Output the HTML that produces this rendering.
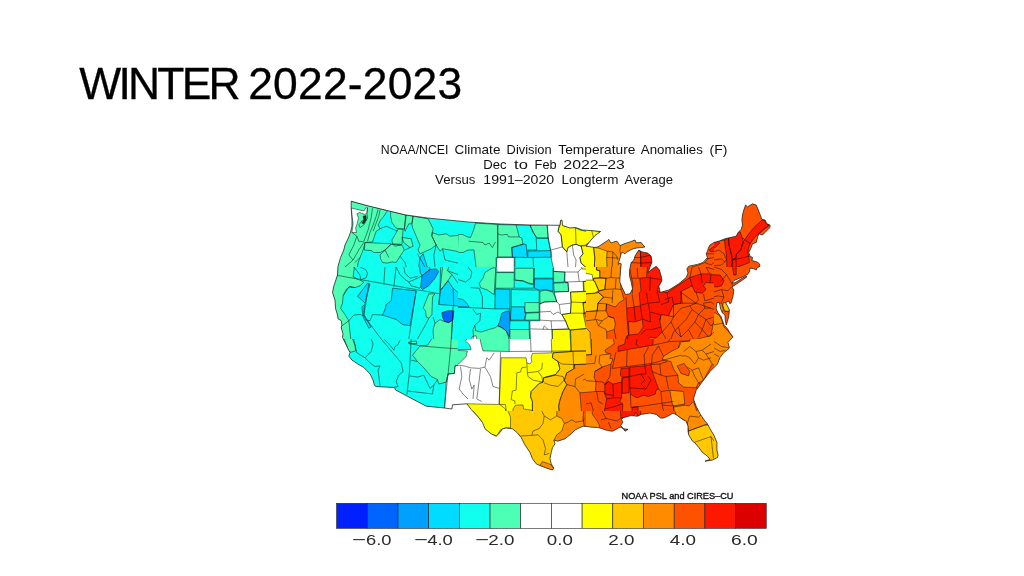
<!DOCTYPE html>
<html lang="en"><head><meta charset="utf-8"><title>Winter 2022-2023</title>
<style>
html,body{margin:0;padding:0;background:#fff;}
body{width:1024px;height:576px;overflow:hidden;position:relative;font-family:"Liberation Sans",Arial,sans-serif;}
h1{position:absolute;left:79.3px;top:62.2px;margin:0;font-weight:400;font-size:44.4px;line-height:1;color:#000;white-space:nowrap;-webkit-text-stroke:0.3px #000;}
svg{position:absolute;left:0;top:0;}
.ta{letter-spacing:-2.75px;} .tb{letter-spacing:0.2px;margin-left:-2.0px;}
.sub{font-family:"Liberation Sans",Arial,sans-serif;font-size:12.2px;fill:#111;}
.cbl{font-family:"Liberation Sans",Arial,sans-serif;font-size:15.5px;fill:#2a2a2a;}
.cr{font-family:"Liberation Sans",Arial,sans-serif;font-size:9.2px;font-weight:400;fill:#111;stroke:#111;stroke-width:0.35px;}
</style></head><body>
<h1><span class="ta">WINTER</span> <span class="tb">2022-2023</span></h1>
<svg width="1024" height="576" viewBox="0 0 1024 576">
<defs><clipPath id="us"><path d="M351.2,201.2 L367.0,205.6 L387.5,210.6 L406.0,215.0 L427.5,218.0 L468.0,222.0 L500.0,224.0 L530.0,225.0 L560.0,225.3 L560.5,220.5 L562.0,220.0 L562.5,225.5 L570.0,228.0 L575.6,227.5 L582.5,230.0 L591.2,230.6 L600.6,231.5 L595.0,235.6 L590.0,241.2 L586.2,246.2 L595.0,247.5 L598.0,246.9 L607.5,240.6 L608.8,239.4 L609.8,241.2 L611.2,243.0 L613.8,241.9 L616.9,241.2 L618.8,243.8 L620.0,245.6 L625.0,243.5 L630.0,241.9 L635.0,240.0 L636.2,242.8 L641.2,242.5 L643.0,245.0 L645.0,246.9 L641.9,247.5 L638.0,247.8 L633.8,248.5 L630.0,250.2 L626.2,252.5 L625.0,253.8 L623.0,252.5 L621.2,253.0 L620.6,256.2 L619.4,260.0 L618.0,264.4 L620.0,263.0 L621.2,263.8 L620.6,270.0 L620.0,277.5 L619.8,282.0 L622.0,287.5 L625.5,294.5 L630.0,293.8 L632.5,288.8 L631.2,282.0 L630.0,278.0 L629.4,273.8 L629.8,268.8 L631.2,262.5 L633.8,260.0 L634.4,258.0 L635.0,256.2 L638.0,251.2 L638.8,250.0 L641.9,251.9 L647.5,253.0 L651.2,256.2 L651.9,262.5 L650.0,266.9 L648.0,272.5 L652.5,268.8 L656.2,266.2 L659.4,270.0 L661.2,276.2 L661.9,280.0 L661.2,282.0 L658.8,286.2 L660.0,291.2 L660.0,292.5 L668.8,290.0 L678.8,283.8 L686.2,277.5 L688.0,273.0 L686.9,268.8 L688.8,266.2 L697.5,264.4 L703.0,262.5 L707.5,257.5 L706.2,253.8 L708.0,250.0 L708.0,248.8 L710.0,245.0 L713.8,242.5 L718.8,241.2 L725.0,238.8 L736.2,236.2 L738.1,232.5 L741.2,229.4 L742.5,225.0 L741.9,220.0 L742.5,215.0 L743.8,210.0 L745.6,205.0 L747.5,206.9 L752.5,203.8 L756.2,205.0 L758.8,211.2 L761.9,219.4 L765.0,220.0 L766.9,223.8 L770.0,225.0 L770.0,227.5 L766.2,231.2 L762.5,235.0 L758.8,233.8 L757.5,237.5 L756.2,242.5 L752.5,243.8 L751.2,247.5 L748.8,252.5 L750.0,256.2 L752.5,257.5 L751.9,260.6 L756.9,261.9 L759.4,263.8 L760.0,266.2 L756.9,268.0 L756.2,270.0 L753.8,268.8 L750.0,268.0 L749.4,271.9 L747.5,274.4 L740.0,278.0 L733.8,280.6 L731.9,283.0 L735.0,282.8 L742.5,278.0 L746.2,276.0 L746.9,276.9 L742.5,280.0 L735.0,285.0 L731.9,286.9 L733.8,290.0 L733.0,296.2 L731.2,302.5 L730.0,303.8 L728.8,301.2 L725.6,302.5 L727.5,306.2 L729.4,310.0 L728.8,316.2 L727.5,321.2 L726.2,325.0 L725.2,319.4 L725.0,315.0 L722.5,313.1 L720.6,308.8 L719.4,302.5 L716.9,302.5 L716.2,308.8 L718.1,313.1 L721.0,316.5 L722.5,320.6 L724.0,325.2 L727.5,328.8 L730.0,333.0 L733.0,336.9 L730.0,340.0 L728.0,342.5 L729.4,347.5 L727.5,350.0 L723.8,352.5 L720.0,357.5 L717.5,364.0 L710.0,371.5 L702.5,381.5 L696.2,390.2 L693.8,397.8 L693.8,400.0 L696.2,406.2 L700.0,413.8 L705.0,421.2 L706.9,423.0 L710.0,428.8 L713.8,435.0 L716.9,442.5 L716.9,450.0 L718.0,455.0 L717.5,457.5 L712.5,460.0 L705.0,461.2 L710.0,459.4 L707.5,456.2 L702.5,452.5 L698.8,447.5 L695.0,443.0 L692.5,441.2 L688.8,435.0 L688.0,431.2 L688.0,426.2 L686.2,421.2 L682.5,419.4 L677.5,415.6 L673.0,413.0 L670.0,415.0 L663.8,418.0 L660.6,418.0 L656.2,414.4 L650.0,413.0 L641.2,414.4 L637.5,416.2 L631.2,415.6 L623.8,417.5 L621.2,419.4 L623.0,422.0 L620.6,425.6 L622.5,427.5 L625.0,431.2 L628.0,429.4 L623.8,428.8 L620.0,427.0 L616.2,429.4 L612.5,431.2 L607.5,430.6 L600.0,428.0 L597.5,427.5 L590.0,427.0 L583.8,426.2 L580.0,427.5 L575.0,430.0 L571.2,433.8 L565.0,438.8 L557.5,441.2 L553.8,440.0 L555.0,443.8 L552.5,447.5 L551.2,452.5 L550.0,458.8 L551.2,463.8 L553.8,468.0 L552.5,470.0 L546.2,468.0 L540.0,465.6 L536.2,463.8 L532.5,458.8 L530.0,452.5 L525.0,445.0 L521.2,437.5 L517.5,433.0 L512.5,428.8 L506.2,428.0 L502.5,428.8 L500.0,432.5 L496.2,436.2 L491.2,433.8 L485.0,428.8 L482.5,422.5 L477.5,416.2 L471.2,409.4 L466.9,403.8 L452.5,404.8 L451.9,409.0 L444.4,408.0 L426.2,406.2 L406.2,395.6 L395.6,390.0 L394.4,387.5 L375.6,386.5 L374.4,385.0 L373.0,380.0 L370.0,373.8 L366.2,370.0 L363.8,367.5 L357.5,363.8 L351.9,360.0 L348.8,356.2 L350.0,352.5 L348.0,348.8 L345.0,342.5 L342.5,337.5 L343.0,333.8 L341.2,327.5 L341.9,325.0 L341.2,320.6 L338.0,318.8 L337.5,315.0 L335.6,308.8 L335.0,300.0 L332.5,292.5 L333.8,286.2 L337.5,275.0 L338.0,266.2 L340.6,257.5 L343.8,250.0 L345.0,245.0 L348.8,237.0 L350.6,232.0 L352.0,226.0 L352.0,220.0 L351.2,208.0Z"/></clipPath><clipPath id="t330_195"><rect x="330" y="195" width="128" height="72"/></clipPath><clipPath id="t458_195"><rect x="458" y="195" width="128" height="72"/></clipPath><clipPath id="t586_195"><rect x="586" y="195" width="128" height="72"/></clipPath><clipPath id="t330_267"><rect x="330" y="267" width="128" height="72"/></clipPath><clipPath id="t458_267"><rect x="458" y="267" width="128" height="72"/></clipPath><clipPath id="t714_195"><rect x="714" y="195" width="128" height="72"/></clipPath><clipPath id="t714_267"><rect x="714" y="267" width="128" height="72"/></clipPath><clipPath id="t330_339"><rect x="330" y="339" width="128" height="72"/></clipPath><clipPath id="t458_339"><rect x="458" y="339" width="128" height="72"/></clipPath><clipPath id="t586_267"><rect x="586" y="267" width="128" height="72"/></clipPath><clipPath id="t586_339"><rect x="586" y="339" width="128" height="72"/></clipPath><clipPath id="t714_339"><rect x="714" y="339" width="128" height="72"/></clipPath><clipPath id="t330_411"><rect x="330" y="411" width="128" height="72"/></clipPath><clipPath id="t458_411"><rect x="458" y="411" width="128" height="72"/></clipPath><clipPath id="t586_411"><rect x="586" y="411" width="128" height="72"/></clipPath><clipPath id="t714_411"><rect x="714" y="411" width="128" height="72"/></clipPath></defs>
<text y="154.1" class="sub"><tspan x="380.85" textLength="67.55" lengthAdjust="spacingAndGlyphs">NOAA/NCEI</tspan> <tspan x="454.60" textLength="45.80" lengthAdjust="spacingAndGlyphs">Climate</tspan> <tspan x="506.60" textLength="45.05" lengthAdjust="spacingAndGlyphs">Division</tspan> <tspan x="558.35" textLength="77.05" lengthAdjust="spacingAndGlyphs">Temperature</tspan> <tspan x="640.85" textLength="62.05" lengthAdjust="spacingAndGlyphs">Anomalies</tspan> <tspan x="709.60" textLength="17.80" lengthAdjust="spacingAndGlyphs">(F)</tspan></text><text y="169" class="sub"><tspan x="483.35" textLength="23.30" lengthAdjust="spacingAndGlyphs">Dec</tspan> <tspan x="514.10" textLength="13.80" lengthAdjust="spacingAndGlyphs">to</tspan> <tspan x="534.60" textLength="22.05" lengthAdjust="spacingAndGlyphs">Feb</tspan> <tspan x="563.35" textLength="61.55" lengthAdjust="spacingAndGlyphs">2022–23</tspan></text><text y="183.6" class="sub"><tspan x="435.10" textLength="40.30" lengthAdjust="spacingAndGlyphs">Versus</tspan> <tspan x="483.35" textLength="70.80" lengthAdjust="spacingAndGlyphs">1991–2020</tspan> <tspan x="561.60" textLength="56.80" lengthAdjust="spacingAndGlyphs">Longterm</tspan> <tspan x="624.60" textLength="48.30" lengthAdjust="spacingAndGlyphs">Average</tspan></text>
<g clip-path="url(#us)" style="filter:blur(0.3px)">
<rect x="320" y="190" width="470" height="290" fill="#10ffee"/>
<g clip-path="url(#t330_195)"><rect x="330" y="195" width="128" height="72" fill="#10ffee"/><path d="M351.2,201.2 L387.5,210.6 L383.8,216.2 L380.6,220.0 L378.1,225.0 L380.0,228.8 L376.2,231.2 L374.4,236.2 L372.5,241.9 L365.0,242.5 L363.1,250.0 L360.0,257.5 L358.1,262.5 L356.9,272.0 L325.0,272.0 L325.0,200.0 L351.2,200.0Z" fill="#4cffb4"/><path d="M351.5,208.1 L363.8,211.0 L366.2,207.5 L367.5,208.1 L367.2,212.5 L365.0,214.4 L359.4,212.5 L356.9,213.8 L358.5,218.1 L356.9,224.4 L355.6,228.1 L356.5,232.5 L351.9,232.5 L353.1,223.8 L351.9,215.0Z" fill="#ffffff"/><path d="M390.6,211.2 L405.6,215.0 L404.4,228.8 L398.1,228.8 L395.6,227.5 L391.9,222.5 L390.6,216.2Z" fill="#4cffb4"/><path d="M406.2,215.0 L413.1,216.2 L411.9,223.8 L408.8,223.8 L405.0,231.2 L404.4,228.8 L405.6,220.0Z" fill="#4cffb4"/><path d="M413.1,216.2 L428.1,218.8 L433.1,228.8 L431.9,236.2 L436.2,245.0 L431.2,248.8 L420.0,253.8 L418.1,250.0 L420.0,245.0 L416.2,236.2 L412.5,227.5 L411.9,223.8Z" fill="#4cffb4"/><path d="M431.9,232.5 L438.8,235.0 L446.2,233.8 L450.0,236.2 L463.0,235.0 L463.0,252.5 L450.0,250.0 L442.5,248.8 L440.0,251.2 L436.2,245.0 L431.9,236.2Z" fill="#4cffb4"/><path d="M365.0,242.5 L391.2,243.8 L385.0,250.0 L380.0,252.5 L373.8,252.5 L371.2,250.6 L364.4,250.0Z" fill="#4cffb4"/><path d="M398.1,228.8 L403.1,229.4 L401.9,244.4 L392.5,243.8 L391.9,240.0 L395.6,233.8Z" fill="#4cffb4"/><path d="M380.0,255.0 L391.2,244.4 L401.9,245.0 L404.4,250.0 L402.5,252.5 L400.0,256.2 L396.2,262.5 L391.9,261.9 L387.5,263.1 L382.5,262.5 L380.6,258.8Z" fill="#4cffb4"/><path d="M401.9,237.5 L411.2,238.8 L413.1,246.2 L410.0,247.5 L403.8,242.5Z" fill="#4cffb4"/><path d="M420.0,257.5 L423.1,253.8 L428.8,272.0 L418.1,272.0Z" fill="#00dcff"/><path d="M363.1,216.2 L366.0,215.6 L366.2,219.8 L364.0,223.5 L361.9,223.2 L363.8,219.4Z" fill="#10302a"/><path d="M351.2,201.2 L387.5,210.6 L383.8,216.2 L380.6,220.0 L378.1,225.0 L380.0,228.8 L376.2,231.2 L374.4,236.2 L372.5,241.9 L365.0,242.5 L363.1,250.0 L360.0,257.5 L358.1,262.5 L356.9,272.0 L325.0,272.0 L325.0,200.0 L351.2,200.0ZM351.5,208.1 L363.8,211.0 L366.2,207.5 L367.5,208.1 L367.2,212.5 L365.0,214.4 L359.4,212.5 L356.9,213.8 L358.5,218.1 L356.9,224.4 L355.6,228.1 L356.5,232.5 L351.9,232.5 L353.1,223.8 L351.9,215.0ZM390.6,211.2 L405.6,215.0 L404.4,228.8 L398.1,228.8 L395.6,227.5 L391.9,222.5 L390.6,216.2ZM406.2,215.0 L413.1,216.2 L411.9,223.8 L408.8,223.8 L405.0,231.2 L404.4,228.8 L405.6,220.0ZM413.1,216.2 L428.1,218.8 L433.1,228.8 L431.9,236.2 L436.2,245.0 L431.2,248.8 L420.0,253.8 L418.1,250.0 L420.0,245.0 L416.2,236.2 L412.5,227.5 L411.9,223.8ZM431.9,232.5 L438.8,235.0 L446.2,233.8 L450.0,236.2 L463.0,235.0 L463.0,252.5 L450.0,250.0 L442.5,248.8 L440.0,251.2 L436.2,245.0 L431.9,236.2ZM365.0,242.5 L391.2,243.8 L385.0,250.0 L380.0,252.5 L373.8,252.5 L371.2,250.6 L364.4,250.0ZM398.1,228.8 L403.1,229.4 L401.9,244.4 L392.5,243.8 L391.9,240.0 L395.6,233.8ZM380.0,255.0 L391.2,244.4 L401.9,245.0 L404.4,250.0 L402.5,252.5 L400.0,256.2 L396.2,262.5 L391.9,261.9 L387.5,263.1 L382.5,262.5 L380.6,258.8ZM401.9,237.5 L411.2,238.8 L413.1,246.2 L410.0,247.5 L403.8,242.5ZM420.0,257.5 L423.1,253.8 L428.8,272.0 L418.1,272.0ZM363.1,216.2 L366.0,215.6 L366.2,219.8 L364.0,223.5 L361.9,223.2 L363.8,219.4ZM367.5,207.5 L366.9,212.5 L367.5,218.1 L363.8,225.0 L360.0,227.5 L358.8,225.0 L362.5,220.0M372.5,208.1 L371.2,217.5 L368.1,230.0 L363.8,241.2M378.1,209.4 L376.2,216.2 L373.1,225.0 L370.0,232.5 L367.5,241.2M380.0,210.0 L378.8,216.2 L375.0,226.2 L373.1,231.2M351.9,232.5 L356.9,236.2 L358.8,241.2 L364.4,241.9M356.9,236.2 L353.8,245.0 L348.8,255.0 L353.1,260.0 L358.8,250.0 L363.8,242.5M353.1,260.0 L345.0,267.0M360.0,257.5 L355.0,262.5M380.0,228.8 L386.2,226.2 L397.5,231.2M385.0,250.0 L388.8,257.5M400.0,256.2 L405.0,262.5 L406.2,267.0M417.5,253.8 L425.0,267.0M436.2,245.0 L433.8,255.0 L435.0,267.0M442.5,248.8 L445.0,260.0 L458.0,263.1M392.5,243.8 L395.0,246.2 L401.2,245.0M410.0,247.5 L405.0,250.0" fill="none" stroke="#000" stroke-width="0.48" stroke-linejoin="round"/></g>
<g clip-path="url(#t458_195)"><rect x="458" y="195" width="128" height="72" fill="#10ffee"/><path d="M453.0,234.8 L462.4,234.4 L467.4,236.9 L470.5,237.5 L473.6,230.0 L475.5,223.1 L497.4,224.4 L497.8,241.2 L497.8,257.5 L496.1,257.5 L496.1,272.0 L476.8,272.0 L475.5,262.5 L474.0,250.0 L468.0,250.0 L463.0,252.5 L453.0,251.9Z" fill="#4cffb4"/><path d="M498.0,224.6 L516.1,225.0 L519.2,236.9 L521.8,238.1 L523.0,244.4 L511.8,247.5 L512.4,256.9 L497.4,256.9 L497.8,241.9Z" fill="#4cffb4"/><path d="M529.9,225.0 L547.0,224.6 L548.2,238.1 L537.4,238.1 L533.0,232.5Z" fill="#4cffb4"/><path d="M511.8,247.5 L523.0,244.0 L526.1,244.4 L527.4,257.5 L512.4,257.2Z" fill="#00dcff"/><path d="M527.8,251.0 L551.1,250.6 L551.8,257.2 L527.8,257.5Z" fill="#00dcff"/><path d="M497.0,257.5 L514.2,257.5 L514.2,272.0 L496.1,272.0Z" fill="#ffffff"/><path d="M547.0,220.0 L560.2,220.0 L558.0,231.2 L561.1,235.0 L562.4,246.9 L566.8,251.9 L568.0,247.5 L572.4,245.0 L576.1,244.4 L581.1,246.2 L583.0,253.8 L579.9,257.5 L581.1,263.1 L591.0,272.0 L554.2,272.0 L551.1,257.5 L550.5,250.0 L548.2,238.1Z" fill="#ffffff"/><path d="M560.2,218.8 L563.0,220.6 L564.2,226.2 L575.5,227.8 L579.9,230.0 L591.0,232.5 L591.0,245.0 L581.1,246.2 L576.1,244.4 L572.4,245.0 L568.0,247.5 L566.8,251.9 L562.4,246.9 L561.1,235.0 L558.0,231.2 L560.2,224.0Z" fill="#ffff00"/><path d="M581.1,245.6 L591.0,244.4 L591.0,272.0 L581.1,263.1 L579.9,257.5 L583.0,253.8Z" fill="#ffff00"/><path d="M453.0,234.8 L462.4,234.4 L467.4,236.9 L470.5,237.5 L473.6,230.0 L475.5,223.1 L497.4,224.4 L497.8,241.2 L497.8,257.5 L496.1,257.5 L496.1,272.0 L476.8,272.0 L475.5,262.5 L474.0,250.0 L468.0,250.0 L463.0,252.5 L453.0,251.9ZM498.0,224.6 L516.1,225.0 L519.2,236.9 L521.8,238.1 L523.0,244.4 L511.8,247.5 L512.4,256.9 L497.4,256.9 L497.8,241.9ZM529.9,225.0 L547.0,224.6 L548.2,238.1 L537.4,238.1 L533.0,232.5ZM511.8,247.5 L523.0,244.0 L526.1,244.4 L527.4,257.5 L512.4,257.2ZM527.8,251.0 L551.1,250.6 L551.8,257.2 L527.8,257.5ZM497.0,257.5 L514.2,257.5 L514.2,272.0 L496.1,272.0ZM547.0,220.0 L560.2,220.0 L558.0,231.2 L561.1,235.0 L562.4,246.9 L566.8,251.9 L568.0,247.5 L572.4,245.0 L576.1,244.4 L581.1,246.2 L583.0,253.8 L579.9,257.5 L581.1,263.1 L591.0,272.0 L554.2,272.0 L551.1,257.5 L550.5,250.0 L548.2,238.1ZM560.2,218.8 L563.0,220.6 L564.2,226.2 L575.5,227.8 L579.9,230.0 L591.0,232.5 L591.0,245.0 L581.1,246.2 L576.1,244.4 L572.4,245.0 L568.0,247.5 L566.8,251.9 L562.4,246.9 L561.1,235.0 L558.0,231.2 L560.2,224.0ZM581.1,245.6 L591.0,244.4 L591.0,272.0 L581.1,263.1 L579.9,257.5 L583.0,253.8ZM516.1,225.0 L529.9,225.0 L536.1,237.5 L536.8,250.0 L526.8,250.0M536.1,238.1 L548.2,238.1 L550.5,250.0M514.9,257.5 L514.9,267.0M533.0,257.5 L533.6,267.0M468.6,241.2 L483.0,242.5 L484.9,245.0 L489.2,243.1 L492.4,247.5 L495.5,241.9M497.8,233.8 L501.1,235.0 L507.4,234.4 L508.6,236.9 L519.2,236.9M575.5,227.8 L576.1,244.4M551.1,250.0 L562.4,246.9M566.8,251.9 L568.0,267.0M572.4,245.0 L573.6,255.0 L576.1,260.0 L575.5,267.0M458.0,234.8 L457.4,251.9" fill="none" stroke="#000" stroke-width="0.48" stroke-linejoin="round"/></g>
<g clip-path="url(#t586_195)"><rect x="586" y="195" width="128" height="72" fill="#ff8c00"/><path d="M581.0,226.2 L591.6,230.0 L600.4,231.5 L593.5,237.5 L588.5,243.1 L586.0,244.4 L586.0,246.2 L592.2,244.4 L593.5,247.5 L594.8,257.5 L594.1,272.0 L581.0,272.0Z" fill="#ffff00"/><path d="M593.5,247.5 L598.5,248.1 L607.2,251.2 L606.6,257.5 L607.2,272.0 L594.1,272.0 L594.8,257.5Z" fill="#ffc800"/><path d="M638.5,250.6 L640.4,251.2 L641.0,272.0 L628.5,272.0 L631.0,262.5 L634.1,257.5 L636.0,253.8Z" fill="#ff5200"/><path d="M640.4,251.2 L646.0,251.9 L651.0,255.0 L651.6,262.5 L649.8,272.0 L641.0,272.0Z" fill="#ff1800"/><path d="M719.0,232.5 L702.2,245.0 L702.2,253.8 L707.9,258.8 L704.8,262.5 L698.5,265.0 L689.8,267.5 L686.0,272.0 L719.0,272.0Z" fill="#ff5200"/><path d="M709.1,250.0 L719.0,242.5 L719.0,250.0 L711.0,251.9Z" fill="#ff1800"/><path d="M581.0,226.2 L591.6,230.0 L600.4,231.5 L593.5,237.5 L588.5,243.1 L586.0,244.4 L586.0,246.2 L592.2,244.4 L593.5,247.5 L594.8,257.5 L594.1,272.0 L581.0,272.0ZM593.5,247.5 L598.5,248.1 L607.2,251.2 L606.6,257.5 L607.2,272.0 L594.1,272.0 L594.8,257.5ZM638.5,250.6 L640.4,251.2 L641.0,272.0 L628.5,272.0 L631.0,262.5 L634.1,257.5 L636.0,253.8ZM640.4,251.2 L646.0,251.9 L651.0,255.0 L651.6,262.5 L649.8,272.0 L641.0,272.0ZM719.0,232.5 L702.2,245.0 L702.2,253.8 L707.9,258.8 L704.8,262.5 L698.5,265.0 L689.8,267.5 L686.0,272.0 L719.0,272.0ZM709.1,250.0 L719.0,242.5 L719.0,250.0 L711.0,251.9ZM620.4,246.2 L619.8,250.0 L621.0,256.2M607.2,251.2 L612.9,251.9 L616.6,256.2 L617.9,260.0M606.6,257.5 L618.5,258.1M612.9,251.9 L612.2,267.0M634.1,257.5 L640.4,257.5 L651.0,255.0M631.0,262.5 L641.0,263.1 L651.6,262.5M706.0,253.8 L714.0,253.8M707.9,258.8 L714.0,257.5M704.8,262.5 L711.0,265.0 L714.0,262.5M591.6,230.0 L593.5,237.5" fill="none" stroke="#000" stroke-width="0.48" stroke-linejoin="round"/></g>
<g clip-path="url(#t330_267)"><rect x="330" y="267" width="128" height="72" fill="#10ffee"/><path d="M337.5,262.0 L355.0,262.0 L353.1,277.0 L363.8,282.0 L360.0,285.8 L355.0,287.6 L350.0,286.4 L346.2,289.5 L343.1,295.8 L342.5,303.2 L340.6,308.2 L345.0,314.5 L348.8,320.8 L351.2,344.0 L341.9,344.0 L341.2,325.8 L336.2,315.8 L330.0,304.5 L330.0,290.8 L337.5,275.1Z" fill="#4cffb4"/><path d="M357.5,296.4 L367.5,283.2 L370.0,283.9 L365.0,303.2 L361.2,299.5Z" fill="#00dcff"/><path d="M361.9,307.0 L364.4,304.5 L363.8,314.5 L371.2,327.0 L368.8,328.2 L363.1,317.0Z" fill="#00dcff"/><path d="M392.5,288.2 L416.2,290.8 L410.0,325.8 L402.5,324.5 L396.2,319.5 L382.5,315.1 L385.0,309.5 L386.2,304.5 L391.2,300.8Z" fill="#00dcff"/><path d="M419.4,262.0 L428.8,262.0 L430.0,269.5 L421.9,275.8 L420.0,272.0Z" fill="#00dcff"/><path d="M421.9,275.8 L430.0,269.5 L436.2,268.9 L438.8,271.4 L435.0,278.2 L428.8,285.8 L422.5,289.5 L420.6,287.6Z" fill="#00a0ff"/><path d="M423.1,308.2 L428.8,293.9 L435.0,293.9 L432.5,297.0 L431.9,314.5 L428.8,318.2 L426.2,317.0 L425.6,310.8Z" fill="#4cffb4"/><path d="M440.0,290.1 L443.1,262.0 L450.0,262.0 L447.5,270.8 L451.9,274.5 L448.8,279.5 L445.0,284.5 L441.2,289.5Z" fill="#4cffb4"/><path d="M438.8,304.5 L440.6,290.1 L448.1,280.8 L453.1,288.2 L463.0,297.0 L463.0,306.4Z" fill="#00dcff"/><path d="M433.8,344.0 L433.1,329.5 L435.0,323.2 L440.0,319.5 L443.8,321.4 L448.8,322.6 L452.5,320.1 L451.2,344.0Z" fill="#4cffb4"/><path d="M441.9,312.6 L447.5,310.8 L453.8,310.8 L453.1,319.5 L448.8,322.6 L444.4,321.4 L442.5,317.0Z" fill="#0064ff"/><path d="M337.5,262.0 L355.0,262.0 L353.1,277.0 L363.8,282.0 L360.0,285.8 L355.0,287.6 L350.0,286.4 L346.2,289.5 L343.1,295.8 L342.5,303.2 L340.6,308.2 L345.0,314.5 L348.8,320.8 L351.2,344.0 L341.9,344.0 L341.2,325.8 L336.2,315.8 L330.0,304.5 L330.0,290.8 L337.5,275.1ZM357.5,296.4 L367.5,283.2 L370.0,283.9 L365.0,303.2 L361.2,299.5ZM361.9,307.0 L364.4,304.5 L363.8,314.5 L371.2,327.0 L368.8,328.2 L363.1,317.0ZM392.5,288.2 L416.2,290.8 L410.0,325.8 L402.5,324.5 L396.2,319.5 L382.5,315.1 L385.0,309.5 L386.2,304.5 L391.2,300.8ZM419.4,262.0 L428.8,262.0 L430.0,269.5 L421.9,275.8 L420.0,272.0ZM421.9,275.8 L430.0,269.5 L436.2,268.9 L438.8,271.4 L435.0,278.2 L428.8,285.8 L422.5,289.5 L420.6,287.6ZM423.1,308.2 L428.8,293.9 L435.0,293.9 L432.5,297.0 L431.9,314.5 L428.8,318.2 L426.2,317.0 L425.6,310.8ZM440.0,290.1 L443.1,262.0 L450.0,262.0 L447.5,270.8 L451.9,274.5 L448.8,279.5 L445.0,284.5 L441.2,289.5ZM438.8,304.5 L440.6,290.1 L448.1,280.8 L453.1,288.2 L463.0,297.0 L463.0,306.4ZM433.8,344.0 L433.1,329.5 L435.0,323.2 L440.0,319.5 L443.8,321.4 L448.8,322.6 L452.5,320.1 L451.2,344.0ZM441.9,312.6 L447.5,310.8 L453.8,310.8 L453.1,319.5 L448.8,322.6 L444.4,321.4 L442.5,317.0ZM338.1,275.5 L440.0,293.9M416.2,290.8 L408.8,339.0M368.8,283.2 L363.8,315.8 L381.2,339.0M453.1,306.4 L451.2,339.0M385.0,266.4 L383.8,284.5M396.2,266.4 L393.8,287.0M353.8,267.0 L356.9,270.8 L360.0,275.1 L360.6,279.5M360.0,267.0 L365.6,269.5 L367.5,273.2 L366.2,277.6 L361.2,279.5M396.2,267.0 L400.0,274.5 L405.0,279.5 L408.8,282.0 L417.5,278.2 L421.9,275.8M403.8,267.0 L405.0,273.2 L410.0,278.2 L417.5,276.4M408.8,282.0 L411.2,285.8 L420.0,288.2M372.5,314.5 L382.5,315.1M372.5,314.5 L370.0,320.8 L365.0,319.5M348.8,320.8 L353.8,315.1 L360.0,314.5 L363.8,315.8M343.1,295.8 L348.8,287.0 L355.0,287.6M428.8,318.2 L425.0,325.8 L420.0,334.5 L417.5,339.0M435.0,323.2 L433.1,317.0M438.8,304.5 L440.0,290.1 L440.6,266.4M453.1,288.2 L453.8,306.4M447.5,270.8 L458.0,274.5M451.9,274.5 L458.0,283.2M337.5,275.1 L338.1,275.5M341.9,325.8 L348.8,320.8" fill="none" stroke="#000" stroke-width="0.48" stroke-linejoin="round"/></g>
<g clip-path="url(#t458_267)"><rect x="458" y="267" width="128" height="72" fill="#10ffee"/><path d="M479.2,283.2 L483.0,278.2 L484.9,272.6 L491.8,268.2 L495.5,267.6 L495.5,272.0 L494.2,294.5 L491.8,293.2 L487.4,290.1 L480.5,287.6Z" fill="#4cffb4"/><path d="M496.8,262.0 L514.2,262.0 L514.2,272.0 L496.8,272.0Z" fill="#ffffff"/><path d="M496.1,272.6 L514.2,272.6 L514.2,288.2 L495.5,288.2Z" fill="#4cffb4"/><path d="M514.9,268.2 L533.6,268.2 L533.6,283.9 L529.2,283.2 L523.0,280.8 L514.9,280.1Z" fill="#4cffb4"/><path d="M534.5,278.9 L553.0,278.9 L553.0,291.4 L545.5,289.5 L539.2,290.1 L534.5,288.2Z" fill="#00dcff"/><path d="M495.2,288.9 L509.9,289.5 L509.9,308.9 L494.9,308.9Z" fill="#00dcff"/><path d="M511.1,306.8 L524.2,306.8 L525.5,314.5 L524.2,320.1 L510.5,320.1Z" fill="#00dcff"/><path d="M539.9,291.4 L545.5,290.1 L553.0,292.0 L556.8,301.4 L550.5,301.4 L544.2,302.0 L539.9,303.9Z" fill="#4cffb4"/><path d="M524.9,302.6 L539.2,302.6 L539.2,312.0 L524.9,312.6Z" fill="#4cffb4"/><path d="M526.1,313.2 L539.2,312.6 L539.2,320.1 L524.9,320.1Z" fill="#4cffb4"/><path d="M509.9,329.5 L529.2,329.5 L529.9,344.0 L509.9,344.0Z" fill="#4cffb4"/><path d="M501.8,313.2 L506.1,311.4 L509.2,310.8 L509.9,320.8 L509.5,337.0 L506.1,330.8 L501.8,327.6 L497.8,325.8 L499.9,320.8Z" fill="#00a0ff"/><path d="M474.2,344.0 L473.0,329.5 L474.9,325.8 L475.5,330.8 L481.1,332.0 L489.2,329.5 L495.5,327.6 L497.8,325.8 L501.8,327.6 L506.1,330.8 L508.6,337.0 L508.6,344.0Z" fill="#4cffb4"/><path d="M471.1,344.0 L472.4,336.4 L476.1,335.8 L478.0,344.0Z" fill="#ffffff"/><path d="M453.0,297.6 L463.0,299.5 L466.8,303.2 L469.2,307.0 L453.0,307.0Z" fill="#00dcff"/><path d="M553.6,271.4 L564.9,272.0 L564.2,282.0 L553.6,282.6Z" fill="#4cffb4"/><path d="M553.6,283.2 L568.0,282.6 L568.6,291.4 L554.2,292.0Z" fill="#4cffb4"/><path d="M553.6,262.0 L591.0,262.0 L591.0,280.8 L583.0,281.4 L583.6,291.4 L570.5,292.0 L571.1,302.0 L570.5,313.2 L561.8,314.5 L565.5,320.8 L568.6,328.9 L551.8,329.5 L552.4,344.0 L530.5,344.0 L529.9,320.8 L539.9,320.8 L539.9,303.9 L544.2,302.0 L556.8,301.8 L554.2,292.0 L568.6,291.4 L568.0,282.6 L564.9,282.0 L564.9,272.0 L553.6,271.4Z" fill="#ffffff"/><path d="M570.5,292.0 L591.0,291.4 L591.0,302.0 L583.0,302.6 L584.2,313.2 L591.0,328.0 L570.5,329.9 L568.6,328.9 L565.5,320.8 L561.8,314.5 L570.5,313.2 L571.1,302.0Z" fill="#ffff00"/><path d="M552.4,329.5 L569.9,329.2 L570.5,344.0 L552.4,344.0Z" fill="#ffff00"/><path d="M570.5,330.1 L591.0,328.2 L591.0,344.0 L571.1,344.0Z" fill="#ffc800"/><path d="M583.0,302.6 L591.0,302.6 L591.0,313.2 L584.2,313.2Z" fill="#ffc800"/><path d="M583.1,313.2 L591.0,312.0 L591.0,328.2 L586.2,327.6Z" fill="#ff8c00"/><path d="M587.5,293.9 L591.0,293.9 L591.0,302.6 L583.0,302.6 L586.2,301.4Z" fill="#ffc800"/><path d="M581.1,262.0 L591.0,262.0 L591.0,269.5 L581.8,268.9Z" fill="#ffff00"/><path d="M583.6,281.4 L591.0,281.4 L591.0,291.4 L584.2,291.4Z" fill="#ffff00"/><path d="M479.2,283.2 L483.0,278.2 L484.9,272.6 L491.8,268.2 L495.5,267.6 L495.5,272.0 L494.2,294.5 L491.8,293.2 L487.4,290.1 L480.5,287.6ZM496.8,262.0 L514.2,262.0 L514.2,272.0 L496.8,272.0ZM496.1,272.6 L514.2,272.6 L514.2,288.2 L495.5,288.2ZM514.9,268.2 L533.6,268.2 L533.6,283.9 L529.2,283.2 L523.0,280.8 L514.9,280.1ZM534.5,278.9 L553.0,278.9 L553.0,291.4 L545.5,289.5 L539.2,290.1 L534.5,288.2ZM495.2,288.9 L509.9,289.5 L509.9,308.9 L494.9,308.9ZM511.1,306.8 L524.2,306.8 L525.5,314.5 L524.2,320.1 L510.5,320.1ZM539.9,291.4 L545.5,290.1 L553.0,292.0 L556.8,301.4 L550.5,301.4 L544.2,302.0 L539.9,303.9ZM524.9,302.6 L539.2,302.6 L539.2,312.0 L524.9,312.6ZM526.1,313.2 L539.2,312.6 L539.2,320.1 L524.9,320.1ZM509.9,329.5 L529.2,329.5 L529.9,344.0 L509.9,344.0ZM501.8,313.2 L506.1,311.4 L509.2,310.8 L509.9,320.8 L509.5,337.0 L506.1,330.8 L501.8,327.6 L497.8,325.8 L499.9,320.8ZM474.2,344.0 L473.0,329.5 L474.9,325.8 L475.5,330.8 L481.1,332.0 L489.2,329.5 L495.5,327.6 L497.8,325.8 L501.8,327.6 L506.1,330.8 L508.6,337.0 L508.6,344.0ZM471.1,344.0 L472.4,336.4 L476.1,335.8 L478.0,344.0ZM453.0,297.6 L463.0,299.5 L466.8,303.2 L469.2,307.0 L453.0,307.0ZM553.6,271.4 L564.9,272.0 L564.2,282.0 L553.6,282.6ZM553.6,283.2 L568.0,282.6 L568.6,291.4 L554.2,292.0ZM553.6,262.0 L591.0,262.0 L591.0,280.8 L583.0,281.4 L583.6,291.4 L570.5,292.0 L571.1,302.0 L570.5,313.2 L561.8,314.5 L565.5,320.8 L568.6,328.9 L551.8,329.5 L552.4,344.0 L530.5,344.0 L529.9,320.8 L539.9,320.8 L539.9,303.9 L544.2,302.0 L556.8,301.8 L554.2,292.0 L568.6,291.4 L568.0,282.6 L564.9,282.0 L564.9,272.0 L553.6,271.4ZM570.5,292.0 L591.0,291.4 L591.0,302.0 L583.0,302.6 L584.2,313.2 L591.0,328.0 L570.5,329.9 L568.6,328.9 L565.5,320.8 L561.8,314.5 L570.5,313.2 L571.1,302.0ZM552.4,329.5 L569.9,329.2 L570.5,344.0 L552.4,344.0ZM570.5,330.1 L591.0,328.2 L591.0,344.0 L571.1,344.0ZM583.0,302.6 L591.0,302.6 L591.0,313.2 L584.2,313.2ZM583.1,313.2 L591.0,312.0 L591.0,328.2 L586.2,327.6ZM587.5,293.9 L591.0,293.9 L591.0,302.6 L583.0,302.6 L586.2,301.4ZM581.1,262.0 L591.0,262.0 L591.0,269.5 L581.8,268.9ZM583.6,281.4 L591.0,281.4 L591.0,291.4 L584.2,291.4ZM514.9,280.1 L523.0,281.0 L529.2,283.9 L533.6,284.5M514.9,288.2 L533.6,288.2 L534.5,268.2M534.5,278.2 L553.0,278.2 L553.0,268.2M511.1,289.5 L539.2,290.1 L539.2,302.6M511.1,289.5 L511.1,306.8M510.5,320.8 L529.2,320.8 L529.2,329.5M458.0,307.0 L494.9,308.9M509.9,308.9 L510.5,320.8M458.0,279.5 L465.5,282.0 L470.5,278.2 L471.8,272.0 L468.0,267.0M470.5,287.6 L479.2,288.2 L482.4,297.0 L482.4,308.2M473.0,309.5 L476.8,314.5 L480.5,313.2 L479.9,320.8 L474.2,325.8M539.9,312.0 L550.5,311.4 L553.0,314.5 L558.0,312.0 L561.8,314.5M539.9,320.1 L551.1,320.8 L551.8,329.5M551.1,320.8 L565.5,320.8M556.8,301.8 L559.2,304.5 L570.5,303.2M559.2,304.5 L560.5,313.2M564.9,282.0 L583.0,281.4M578.0,272.0 L579.2,281.4M564.9,272.0 L578.0,272.0 L581.1,268.9M530.5,328.9 L551.8,329.5M543.0,329.5 L544.2,325.8 L548.0,329.5M583.0,302.6 L571.1,302.0M584.2,313.2 L570.5,313.2" fill="none" stroke="#000" stroke-width="0.48" stroke-linejoin="round"/></g>
<g clip-path="url(#t714_195)"><rect x="714" y="195" width="128" height="72" fill="#ff5200"/><path d="M762.1,220.0 L764.6,220.0 L766.5,223.8 L769.0,225.0 L764.0,228.8 L758.4,233.8 L754.0,238.1 L750.2,243.8 L748.4,248.8 L747.8,253.1 L749.0,257.5 L749.4,262.5 L736.9,267.5 L736.5,272.0 L731.5,272.0 L732.8,260.0 L735.9,257.5 L736.5,253.8 L740.9,250.0 L742.1,245.0 L743.4,241.9 L747.8,235.0 L754.0,227.5Z" fill="#ff1800"/><path d="M737.1,232.5 L740.2,231.9 L742.1,237.5 L743.4,241.9 L742.1,245.0 L740.9,250.0 L736.5,253.8 L735.9,257.5 L732.8,260.0 L731.5,255.0 L729.0,245.0 L728.4,238.1 L736.5,235.6Z" fill="#ff1800"/><path d="M724.6,240.0 L728.4,238.1 L729.0,245.0 L731.5,255.0 L732.1,262.5 L731.5,272.0 L727.1,272.0 L726.5,255.0 L725.2,247.5Z" fill="#ff1800"/><path d="M709.0,243.1 L718.4,241.2 L719.6,243.1 L715.2,247.5 L709.0,250.0Z" fill="#ff1800"/><path d="M762.1,220.0 L764.6,220.0 L766.5,223.8 L769.0,225.0 L764.0,228.8 L758.4,233.8 L754.0,238.1 L750.2,243.8 L748.4,248.8 L747.8,253.1 L749.0,257.5 L749.4,262.5 L736.9,267.5 L736.5,272.0 L731.5,272.0 L732.8,260.0 L735.9,257.5 L736.5,253.8 L740.9,250.0 L742.1,245.0 L743.4,241.9 L747.8,235.0 L754.0,227.5ZM737.1,232.5 L740.2,231.9 L742.1,237.5 L743.4,241.9 L742.1,245.0 L740.9,250.0 L736.5,253.8 L735.9,257.5 L732.8,260.0 L731.5,255.0 L729.0,245.0 L728.4,238.1 L736.5,235.6ZM724.6,240.0 L728.4,238.1 L729.0,245.0 L731.5,255.0 L732.1,262.5 L731.5,272.0 L727.1,272.0 L726.5,255.0 L725.2,247.5ZM709.0,243.1 L718.4,241.2 L719.6,243.1 L715.2,247.5 L709.0,250.0ZM769.0,225.6 L763.4,230.0 L759.0,233.8M709.0,253.8 L719.0,250.0 L724.0,253.8 L726.5,260.0 L721.5,265.0 L709.0,266.2M718.4,241.2 L724.6,240.0M732.8,260.0 L749.4,256.2M735.9,257.5 L736.5,272.0M742.1,237.5 L750.2,243.8M714.0,260.0 L721.5,258.8 L725.2,262.5" fill="none" stroke="#000" stroke-width="0.48" stroke-linejoin="round"/></g>
<g clip-path="url(#t714_267)"><rect x="714" y="267" width="128" height="72" fill="#ff5200"/><path d="M709.0,274.5 L720.2,275.1 L724.0,280.8 L721.5,285.8 L716.5,287.0 L709.0,285.8Z" fill="#ff1800"/><path d="M732.5,262.0 L736.2,262.0 L736.2,275.0 L733.8,275.0 L732.8,269.5Z" fill="#ff1800"/><path d="M723.4,302.6 L725.9,302.6 L729.6,308.9 L729.0,311.4 L724.6,310.8 L722.8,305.8Z" fill="#ffc800"/><path d="M719.0,303.9 L721.5,302.6 L723.4,309.5 L721.5,313.2 L719.6,309.5Z" fill="#ff8c00"/><path d="M709.0,313.5 L715.2,312.8 L719.6,315.8 L721.5,319.5 L724.0,327.0 L727.8,330.8 L732.8,337.0 L732.8,344.0 L709.0,344.0Z" fill="#ff8c00"/><path d="M709.0,274.5 L720.2,275.1 L724.0,280.8 L721.5,285.8 L716.5,287.0 L709.0,285.8ZM732.5,262.0 L736.2,262.0 L736.2,275.0 L733.8,275.0 L732.8,269.5ZM723.4,302.6 L725.9,302.6 L729.6,308.9 L729.0,311.4 L724.6,310.8 L722.8,305.8ZM719.0,303.9 L721.5,302.6 L723.4,309.5 L721.5,313.2 L719.6,309.5ZM709.0,313.5 L715.2,312.8 L719.6,315.8 L721.5,319.5 L724.0,327.0 L727.8,330.8 L732.8,337.0 L732.8,344.0 L709.0,344.0ZM724.6,311.4 L729.0,311.8M714.0,267.0 L721.5,269.5 L726.5,274.5 L730.2,280.8 L732.8,285.8M726.5,274.5 L721.5,280.8M714.0,292.0 L721.5,289.5 L727.8,290.8 L731.5,287.0M721.5,289.5 L724.0,297.0 L721.5,302.0M709.0,298.2 L717.8,295.8 L724.0,297.0M709.0,325.8 L722.8,323.2" fill="none" stroke="#000" stroke-width="0.48" stroke-linejoin="round"/></g>
<g clip-path="url(#t330_339)"><rect x="330" y="339" width="128" height="72" fill="#10ffee"/><path d="M342.5,334.0 L352.5,334.0 L355.0,345.2 L355.6,350.9 L351.2,352.1 L348.8,351.5Z" fill="#4cffb4"/><path d="M412.5,355.2 L420.0,345.9 L427.5,345.2 L435.0,334.0 L463.0,334.0 L463.0,364.0 L455.0,365.9 L454.4,373.4 L448.1,374.0 L446.2,382.1 L438.8,384.0 L437.5,379.6 L431.2,376.5 L423.8,367.8 L417.5,361.5Z" fill="#4cffb4"/><path d="M408.8,342.1 L416.2,340.9 L416.9,343.4 L409.4,344.0Z" fill="#4cffb4"/><path d="M448.1,374.0 L454.4,373.4 L455.0,365.9 L463.0,364.0 L463.0,416.0 L444.4,416.0 L445.0,401.5 L446.2,382.1Z" fill="#ffffff"/><path d="M342.5,334.0 L352.5,334.0 L355.0,345.2 L355.6,350.9 L351.2,352.1 L348.8,351.5ZM412.5,355.2 L420.0,345.9 L427.5,345.2 L435.0,334.0 L463.0,334.0 L463.0,364.0 L455.0,365.9 L454.4,373.4 L448.1,374.0 L446.2,382.1 L438.8,384.0 L437.5,379.6 L431.2,376.5 L423.8,367.8 L417.5,361.5ZM408.8,342.1 L416.2,340.9 L416.9,343.4 L409.4,344.0ZM448.1,374.0 L454.4,373.4 L455.0,365.9 L463.0,364.0 L463.0,416.0 L444.4,416.0 L445.0,401.5 L446.2,382.1ZM381.2,339.0 L401.2,362.8 L403.1,371.5 L398.8,375.2 L396.2,381.5 L398.1,386.5 L394.4,387.1M411.2,338.4 L409.4,372.8 L406.9,394.6M409.4,375.9 L417.5,377.1 L423.8,375.2 L430.0,388.4 L433.8,385.2 L437.5,379.6M407.5,390.9 L432.5,394.0 L433.8,385.2M411.2,360.2 L417.5,361.5M450.6,348.4 L448.1,374.0 L444.4,407.8M408.1,342.8 L420.0,345.9 L450.6,348.4 L463.0,349.0M352.5,339.0 L355.0,345.2 L356.9,352.8 L365.0,357.8 L371.2,351.5 L373.1,344.0 L371.2,339.0M365.0,357.8 L370.0,362.8 L375.0,366.5 L380.0,365.9 L378.1,370.2 L380.0,385.9M383.8,339.0 L390.0,345.2 L393.8,350.2 L395.0,346.5 L397.5,345.2 L400.0,340.2M451.2,338.4 L450.6,348.4" fill="none" stroke="#000" stroke-width="0.48" stroke-linejoin="round"/></g>
<g clip-path="url(#t458_339)"><rect x="458" y="339" width="128" height="72" fill="#ffffff"/><path d="M453.0,334.0 L470.5,334.0 L465.5,340.9 L469.9,345.2 L471.1,349.6 L453.0,349.6Z" fill="#10ffee"/><path d="M479.2,334.0 L509.2,334.0 L509.2,351.5 L483.0,350.9 L481.1,344.0Z" fill="#4cffb4"/><path d="M453.0,350.2 L467.4,350.9 L466.1,356.5 L459.2,363.4 L453.0,364.0Z" fill="#4cffb4"/><path d="M501.1,357.8 L526.1,357.8 L526.8,362.8 L529.9,364.0 L531.8,361.5 L531.1,357.8 L532.4,353.4 L551.8,352.8 L551.1,334.0 L570.5,334.0 L571.1,351.5 L553.0,352.8 L552.4,357.8 L558.0,361.5 L559.9,369.0 L555.5,374.6 L548.0,376.5 L543.6,377.8 L543.0,382.1 L539.2,383.4 L535.5,387.1 L531.1,391.5 L530.5,396.5 L532.4,401.5 L532.4,409.0 L533.0,416.0 L506.8,416.0 L505.5,409.0 L499.2,404.0 L499.9,389.0Z" fill="#ffff00"/><path d="M466.8,403.8 L505.5,404.6 L506.8,416.0 L474.2,416.0Z" fill="#ffff00"/><path d="M553.0,352.8 L571.1,351.5 L570.5,334.0 L591.0,334.0 L591.0,364.0 L574.2,364.6 L573.6,369.0 L566.8,372.8 L564.2,380.2 L566.8,384.6 L563.0,391.5 L559.9,400.2 L558.6,406.5 L559.9,416.0 L533.0,416.0 L532.4,409.0 L532.4,401.5 L530.5,396.5 L531.1,391.5 L535.5,387.1 L539.2,383.4 L543.0,382.1 L543.6,377.8 L548.0,376.5 L555.5,374.6 L559.9,369.0 L558.0,361.5 L552.4,357.8Z" fill="#ffc800"/><path d="M513.0,409.0 L515.5,405.2 L523.0,405.0 L523.6,409.0 L531.8,410.2 L531.8,416.0 L513.0,416.0Z" fill="#ffc800"/><path d="M574.2,364.6 L591.0,364.0 L591.0,416.0 L559.9,416.0 L558.6,406.5 L559.9,400.2 L563.0,391.5 L566.8,384.6 L564.2,380.2 L566.8,372.8 L573.6,369.0Z" fill="#ff8c00"/><path d="M579.9,392.8 L591.0,392.1 L591.0,416.0 L581.8,416.0Z" fill="#ff5200"/><path d="M453.0,334.0 L470.5,334.0 L465.5,340.9 L469.9,345.2 L471.1,349.6 L453.0,349.6ZM479.2,334.0 L509.2,334.0 L509.2,351.5 L483.0,350.9 L481.1,344.0ZM453.0,350.2 L467.4,350.9 L466.1,356.5 L459.2,363.4 L453.0,364.0ZM501.1,357.8 L526.1,357.8 L526.8,362.8 L529.9,364.0 L531.8,361.5 L531.1,357.8 L532.4,353.4 L551.8,352.8 L551.1,334.0 L570.5,334.0 L571.1,351.5 L553.0,352.8 L552.4,357.8 L558.0,361.5 L559.9,369.0 L555.5,374.6 L548.0,376.5 L543.6,377.8 L543.0,382.1 L539.2,383.4 L535.5,387.1 L531.1,391.5 L530.5,396.5 L532.4,401.5 L532.4,409.0 L533.0,416.0 L506.8,416.0 L505.5,409.0 L499.2,404.0 L499.9,389.0ZM466.8,403.8 L505.5,404.6 L506.8,416.0 L474.2,416.0ZM553.0,352.8 L571.1,351.5 L570.5,334.0 L591.0,334.0 L591.0,364.0 L574.2,364.6 L573.6,369.0 L566.8,372.8 L564.2,380.2 L566.8,384.6 L563.0,391.5 L559.9,400.2 L558.6,406.5 L559.9,416.0 L533.0,416.0 L532.4,409.0 L532.4,401.5 L530.5,396.5 L531.1,391.5 L535.5,387.1 L539.2,383.4 L543.0,382.1 L543.6,377.8 L548.0,376.5 L555.5,374.6 L559.9,369.0 L558.0,361.5 L552.4,357.8ZM513.0,409.0 L515.5,405.2 L523.0,405.0 L523.6,409.0 L531.8,410.2 L531.8,416.0 L513.0,416.0ZM574.2,364.6 L591.0,364.0 L591.0,416.0 L559.9,416.0 L558.6,406.5 L559.9,400.2 L563.0,391.5 L566.8,384.6 L564.2,380.2 L566.8,372.8 L573.6,369.0ZM579.9,392.8 L591.0,392.1 L591.0,416.0 L581.8,416.0ZM509.2,351.5 L586.0,350.9M530.5,338.4 L531.1,352.1M500.5,352.1 L499.2,404.0M526.1,367.1 L521.8,367.8 L520.5,372.1 L516.8,372.8 L516.1,390.2 L512.4,390.9 L511.1,399.6 L514.9,400.9 L514.9,404.0M526.8,362.8 L527.4,372.8 L538.0,371.5 L541.8,369.0 L542.4,362.8M527.4,372.8 L528.0,376.5 L533.0,380.2 L543.0,382.1M538.0,371.5 L541.8,376.5 L543.0,382.1M558.0,361.5 L561.8,364.0 L574.2,364.6M458.0,365.2 L464.2,365.9 L470.5,367.8 L479.2,368.4 L484.9,367.1 L486.8,357.8 L489.2,360.2 L494.2,352.8M460.5,366.5 L461.8,376.5 L459.2,389.0 L463.0,394.0 L468.0,399.0M470.5,369.0 L469.2,379.0 L471.8,389.0 L474.2,385.2 L473.0,399.0M480.5,369.0 L479.2,380.2 L476.8,399.0 L481.8,401.5M484.9,367.1 L490.5,376.5 L493.0,386.5 L499.2,388.4M584.2,374.0 L575.5,379.0 L574.9,386.5 L579.9,392.8M566.8,384.6 L574.9,386.5M543.6,377.8 L555.5,375.2 L563.0,376.5 L564.2,380.2M544.2,382.8 L550.5,385.2 L558.0,386.5 L564.2,380.2M574.2,364.6 L574.9,369.0M571.1,351.5 L591.0,350.9M573.0,351.5 L573.6,364.6M591.0,376.5 L583.0,380.2" fill="none" stroke="#000" stroke-width="0.48" stroke-linejoin="round"/></g>
<g clip-path="url(#t586_267)"><rect x="586" y="267" width="128" height="72" fill="#ff5200"/><path d="M596.0,262.0 L621.0,262.0 L620.4,278.2 L621.0,289.5 L624.1,299.5 L618.5,303.2 L615.4,307.0 L606.6,303.9 L606.0,310.8 L608.5,316.4 L614.1,318.2 L615.4,324.5 L614.1,329.5 L606.6,332.0 L607.2,344.0 L581.0,344.0 L581.0,312.0 L597.2,310.8 L597.9,303.2 L603.5,297.0 L598.5,292.6 L599.1,290.8 L604.8,289.5 L606.0,278.2 L599.8,277.6 L599.8,270.8 L596.6,270.1Z" fill="#ff8c00"/><path d="M581.0,262.0 L596.0,262.0 L596.6,270.1 L599.8,270.8 L599.8,277.6 L593.5,278.2 L593.5,280.8 L594.8,281.4 L598.5,290.8 L594.8,293.2 L581.0,293.9Z" fill="#ffff00"/><path d="M581.0,272.6 L592.2,274.5 L592.9,280.1 L581.0,280.1Z" fill="#ffffff"/><path d="M594.1,278.2 L606.0,278.2 L604.8,289.5 L599.1,290.8 L595.4,283.2 L594.8,281.4 L593.5,280.8Z" fill="#ffc800"/><path d="M581.0,294.5 L594.8,293.2 L598.5,292.6 L603.5,297.0 L597.9,303.2 L597.2,310.8 L581.0,312.0Z" fill="#ffc800"/><path d="M581.0,328.9 L586.2,328.2 L590.0,332.0 L590.6,344.0 L581.0,344.0Z" fill="#ffc800"/><path d="M648.5,262.0 L663.5,262.0 L662.2,279.5 L657.2,290.8 L667.2,292.6 L678.5,285.1 L684.8,280.8 L689.8,277.6 L701.0,273.9 L709.8,273.9 L719.0,276.4 L719.0,283.2 L706.0,282.6 L703.5,285.8 L706.0,289.5 L702.2,293.2 L694.8,292.0 L692.2,285.8 L681.0,291.4 L681.0,303.2 L673.5,304.5 L668.5,315.8 L661.0,314.5 L659.8,320.8 L661.0,327.0 L662.2,332.0 L656.0,338.2 L649.8,337.0 L646.0,344.0 L626.0,344.0 L626.0,337.0 L628.5,334.5 L627.2,320.8 L626.6,308.2 L634.1,307.0 L640.4,305.8 L639.1,293.2 L641.0,290.8 L639.8,278.2 L646.6,277.6 L647.2,268.2Z" fill="#ff1800"/><path d="M628.5,321.4 L634.8,322.0 L642.2,319.5 L643.2,327.0 L638.5,333.9 L629.1,335.1Z" fill="#ff5200"/><path d="M690.0,340.8 L711.0,335.6 L712.5,327.5 L715.0,315.0 L719.0,314.5 L719.0,344.0 L690.0,344.0Z" fill="#ff8c00"/><path d="M596.0,262.0 L621.0,262.0 L620.4,278.2 L621.0,289.5 L624.1,299.5 L618.5,303.2 L615.4,307.0 L606.6,303.9 L606.0,310.8 L608.5,316.4 L614.1,318.2 L615.4,324.5 L614.1,329.5 L606.6,332.0 L607.2,344.0 L581.0,344.0 L581.0,312.0 L597.2,310.8 L597.9,303.2 L603.5,297.0 L598.5,292.6 L599.1,290.8 L604.8,289.5 L606.0,278.2 L599.8,277.6 L599.8,270.8 L596.6,270.1ZM581.0,262.0 L596.0,262.0 L596.6,270.1 L599.8,270.8 L599.8,277.6 L593.5,278.2 L593.5,280.8 L594.8,281.4 L598.5,290.8 L594.8,293.2 L581.0,293.9ZM581.0,272.6 L592.2,274.5 L592.9,280.1 L581.0,280.1ZM594.1,278.2 L606.0,278.2 L604.8,289.5 L599.1,290.8 L595.4,283.2 L594.8,281.4 L593.5,280.8ZM581.0,294.5 L594.8,293.2 L598.5,292.6 L603.5,297.0 L597.9,303.2 L597.2,310.8 L581.0,312.0ZM581.0,328.9 L586.2,328.2 L590.0,332.0 L590.6,344.0 L581.0,344.0ZM648.5,262.0 L663.5,262.0 L662.2,279.5 L657.2,290.8 L667.2,292.6 L678.5,285.1 L684.8,280.8 L689.8,277.6 L701.0,273.9 L709.8,273.9 L719.0,276.4 L719.0,283.2 L706.0,282.6 L703.5,285.8 L706.0,289.5 L702.2,293.2 L694.8,292.0 L692.2,285.8 L681.0,291.4 L681.0,303.2 L673.5,304.5 L668.5,315.8 L661.0,314.5 L659.8,320.8 L661.0,327.0 L662.2,332.0 L656.0,338.2 L649.8,337.0 L646.0,344.0 L626.0,344.0 L626.0,337.0 L628.5,334.5 L627.2,320.8 L626.6,308.2 L634.1,307.0 L640.4,305.8 L639.1,293.2 L641.0,290.8 L639.8,278.2 L646.6,277.6 L647.2,268.2ZM628.5,321.4 L634.8,322.0 L642.2,319.5 L643.2,327.0 L638.5,333.9 L629.1,335.1ZM690.0,340.8 L711.0,335.6 L712.5,327.5 L715.0,315.0 L719.0,314.5 L719.0,344.0 L690.0,344.0ZM611.6,267.0 L611.0,277.6 L606.0,278.2M611.0,277.6 L620.4,278.2M616.0,278.9 L615.4,288.9 L604.8,289.5M615.4,288.9 L621.0,289.5M612.9,290.1 L612.2,303.2M603.5,297.0 L612.9,298.2M626.0,297.0 L626.6,308.2M632.2,294.5 L634.1,307.0M629.8,268.9 L631.6,278.2 L632.9,283.2 L632.2,293.9M637.2,268.2 L637.9,277.6M639.8,278.2 L631.6,278.2M650.4,276.4 L649.8,290.8M646.6,292.6 L647.9,303.2M657.2,291.4 L659.8,302.0M641.0,305.1 L648.5,303.2 L659.8,302.0M640.4,305.8 L642.2,318.9M648.5,303.9 L649.8,312.0 L659.8,314.5M649.8,312.0 L650.4,322.0M664.8,299.5 L672.2,297.0 L673.5,304.5M667.2,292.6 L668.5,302.0 L661.0,304.5M680.4,292.0 L696.0,303.2 L711.0,308.2M681.0,303.2 L696.0,303.2M689.8,277.6 L692.2,285.8M673.5,317.0 L681.0,308.2 L689.8,305.8 L692.2,309.5 L686.0,319.5 L678.5,327.0 L673.5,332.0M692.2,309.5 L698.5,314.5 L694.8,322.0 L688.5,329.5M698.5,314.5 L704.8,308.2 L711.0,308.2M698.5,314.5 L706.0,319.5 L702.2,329.5 L698.5,337.0M662.2,332.0 L671.0,322.0 L673.5,317.0M671.0,322.0 L676.0,332.0 L681.0,337.0M706.0,319.5 L714.0,317.0M681.0,291.4 L682.2,303.2M597.2,310.8 L606.0,310.8M586.0,320.8 L596.0,319.5 L598.5,325.8 L606.0,329.5 L606.6,332.0M614.1,318.2 L608.5,316.4M614.1,329.5 L616.0,339.0M628.5,334.5 L627.2,339.0M696.0,292.0 L698.5,299.5 L696.0,303.2M703.5,293.9 L704.8,300.8 L714.0,298.2M597.9,303.2 L606.6,303.9 L606.0,310.8M597.2,310.8 L594.8,319.5M608.5,316.4 L602.2,320.8 L596.0,319.5M602.2,320.8 L598.5,325.8M634.1,307.0 L635.4,320.8M647.2,277.6 L661.6,279.5M661.0,314.5 L659.8,320.8M650.4,322.0 L642.2,318.9M646.0,329.5 L652.2,329.5 L661.0,327.0M641.0,334.5 L646.0,329.5M701.0,273.9 L702.2,283.2M711.0,274.5 L709.8,283.2M692.2,267.0 L689.8,277.6M698.5,267.0 L701.0,273.9M706.0,267.0 L709.8,273.9M714.0,269.5 L706.0,267.0M681.0,303.2 L673.5,304.5 L673.5,317.0M689.8,305.8 L696.0,303.2M704.8,308.2 L703.5,303.2 L711.0,302.0 L714.0,304.5M711.0,308.2 L714.0,309.5M678.5,327.0 L681.0,337.0 L688.5,329.5M694.8,322.0 L702.2,329.5M688.5,329.5 L693.5,339.0M702.2,329.5 L708.5,337.0 L714.0,332.0M706.0,319.5 L711.0,325.8 L714.0,323.2M668.5,315.8 L673.5,317.0M662.2,332.0 L666.0,339.0M673.5,332.0 L671.0,339.0" fill="none" stroke="#000" stroke-width="0.48" stroke-linejoin="round"/></g>
<g clip-path="url(#t586_339)"><rect x="586" y="339" width="128" height="72" fill="#ff5200"/><path d="M591.0,334.0 L612.9,334.0 L614.1,344.0 L604.8,350.2 L606.0,352.8 L611.0,354.0 L609.8,358.4 L612.9,359.0 L611.0,364.0 L602.2,367.1 L594.8,371.5 L594.1,377.8 L596.0,381.5 L595.4,391.5 L581.0,392.8 L581.0,355.2 L591.6,354.6 L591.0,341.5Z" fill="#ff8c00"/><path d="M581.0,334.0 L591.0,334.0 L591.0,341.5 L591.6,354.6 L581.0,355.2Z" fill="#ffc800"/><path d="M626.0,334.0 L653.5,334.0 L652.9,345.2 L627.2,349.6 L617.9,351.5 L618.2,346.5 L624.8,344.0Z" fill="#ff1800"/><path d="M678.5,347.8 L679.8,342.1 L689.8,340.9 L691.0,334.0 L719.0,334.0 L719.0,367.8 L712.2,364.0 L703.5,380.2 L698.5,382.8 L696.0,387.8 L683.5,387.1 L678.5,382.8 L677.9,375.2 L673.5,369.0 L671.0,361.5 L662.2,359.6 L663.5,356.5 L671.0,351.5Z" fill="#ff8c00"/><path d="M677.2,365.9 L684.1,363.4 L689.8,371.5 L688.5,375.9 L681.0,373.4Z" fill="#ff5200"/><path d="M669.8,390.2 L677.9,390.9 L683.5,391.5 L684.8,404.0 L673.5,405.9 L672.2,404.0Z" fill="#ff8c00"/><path d="M673.5,407.1 L684.8,405.2 L689.1,405.9 L693.5,401.5 L698.5,416.0 L673.5,416.0Z" fill="#ff8c00"/><path d="M621.0,368.4 L629.1,367.8 L629.1,376.5 L622.2,377.1 L620.4,375.2Z" fill="#ff1800"/><path d="M622.2,377.8 L629.1,377.1 L629.1,392.8 L622.2,393.4Z" fill="#ff1800"/><path d="M629.8,367.1 L644.8,365.9 L651.0,364.6 L652.2,371.5 L658.5,389.0 L656.0,390.2 L655.4,394.0 L648.5,396.5 L643.5,395.2 L637.2,397.8 L634.1,396.5 L630.4,394.0 L629.8,387.8Z" fill="#ff1800"/><path d="M604.8,384.6 L608.5,381.5 L612.9,384.0 L621.6,382.1 L621.6,397.8 L619.8,401.5 L622.9,404.0 L622.2,416.0 L602.9,416.0 L604.8,409.0 L606.6,399.0 L604.8,394.0Z" fill="#ff1800"/><path d="M632.2,407.1 L637.9,406.5 L638.5,416.0 L631.6,416.0Z" fill="#ff1800"/><path d="M591.0,334.0 L612.9,334.0 L614.1,344.0 L604.8,350.2 L606.0,352.8 L611.0,354.0 L609.8,358.4 L612.9,359.0 L611.0,364.0 L602.2,367.1 L594.8,371.5 L594.1,377.8 L596.0,381.5 L595.4,391.5 L581.0,392.8 L581.0,355.2 L591.6,354.6 L591.0,341.5ZM581.0,334.0 L591.0,334.0 L591.0,341.5 L591.6,354.6 L581.0,355.2ZM626.0,334.0 L653.5,334.0 L652.9,345.2 L627.2,349.6 L617.9,351.5 L618.2,346.5 L624.8,344.0ZM678.5,347.8 L679.8,342.1 L689.8,340.9 L691.0,334.0 L719.0,334.0 L719.0,367.8 L712.2,364.0 L703.5,380.2 L698.5,382.8 L696.0,387.8 L683.5,387.1 L678.5,382.8 L677.9,375.2 L673.5,369.0 L671.0,361.5 L662.2,359.6 L663.5,356.5 L671.0,351.5ZM677.2,365.9 L684.1,363.4 L689.8,371.5 L688.5,375.9 L681.0,373.4ZM669.8,390.2 L677.9,390.9 L683.5,391.5 L684.8,404.0 L673.5,405.9 L672.2,404.0ZM673.5,407.1 L684.8,405.2 L689.1,405.9 L693.5,401.5 L698.5,416.0 L673.5,416.0ZM621.0,368.4 L629.1,367.8 L629.1,376.5 L622.2,377.1 L620.4,375.2ZM622.2,377.8 L629.1,377.1 L629.1,392.8 L622.2,393.4ZM629.8,367.1 L644.8,365.9 L651.0,364.6 L652.2,371.5 L658.5,389.0 L656.0,390.2 L655.4,394.0 L648.5,396.5 L643.5,395.2 L637.2,397.8 L634.1,396.5 L630.4,394.0 L629.8,387.8ZM604.8,384.6 L608.5,381.5 L612.9,384.0 L621.6,382.1 L621.6,397.8 L619.8,401.5 L622.9,404.0 L622.2,416.0 L602.9,416.0 L604.8,409.0 L606.6,399.0 L604.8,394.0ZM632.2,407.1 L637.9,406.5 L638.5,416.0 L631.6,416.0ZM637.2,339.0 L636.0,344.0 L638.5,346.5M616.0,352.1 L612.2,368.4 L652.2,363.4 L681.0,355.2M627.2,349.6 L626.6,366.5M648.5,347.1 L644.1,355.2 L644.8,365.9M658.5,345.9 L652.2,355.2 L651.6,364.0M652.9,345.2 L669.8,341.5 L689.8,340.9M681.0,342.8 L678.5,347.8M663.5,356.5 L658.5,345.9M651.0,364.6 L659.8,364.0 L667.2,361.5M659.8,364.0 L661.0,375.2 L666.0,376.5 L668.5,389.0M652.2,371.5 L661.0,375.2M666.0,376.5 L677.9,375.2M658.5,389.0 L661.0,391.5 L669.8,390.2M661.0,391.5 L662.2,405.2 L673.5,405.9M630.4,394.0 L631.0,407.8 L673.5,401.5M621.6,382.1 L622.2,377.8M612.9,384.0 L613.5,397.8 L621.6,397.8M608.5,381.5 L604.8,384.6M581.0,380.2 L596.0,381.5M595.4,391.5 L604.1,391.5 L604.8,394.0M596.6,391.5 L598.5,401.5 L602.9,404.0M586.0,364.0 L594.8,363.4 L596.0,355.2M594.8,371.5 L602.2,367.1M641.0,374.0 L644.8,380.2 L641.0,384.0 L646.0,389.0 L651.0,380.2 L648.5,376.5M644.8,365.9 L646.0,374.0 L641.0,374.0M629.8,376.5 L641.0,374.0M629.8,387.8 L646.0,389.0M694.8,364.0 L698.5,357.8 L703.5,360.2 L711.0,357.8M698.5,357.8 L696.0,351.5 L702.2,350.2 L711.0,344.0M687.2,367.1 L692.2,370.2 L698.5,367.8 L703.5,380.2M692.2,370.2 L694.8,376.5 L698.5,382.8M683.5,351.5 L689.8,346.5 L696.0,351.5M681.0,355.9 L686.0,355.9 L689.8,357.8 L694.8,364.0M599.8,355.2 L609.8,354.0M599.8,355.2 L599.1,362.8 L602.2,367.1M611.0,364.0 L609.8,376.5 L604.8,384.6M596.0,381.5 L603.5,382.1 L604.8,384.6M586.0,404.0 L591.0,402.8 L593.5,411.0M604.8,394.0 L612.9,395.2M606.6,399.0 L613.5,397.8M604.8,409.0 L614.8,406.5 L622.2,404.0M669.8,339.0 L668.5,341.5M662.2,405.2 L663.5,411.0M673.5,405.9 L674.1,411.0M703.5,380.2 L711.0,376.5 L714.0,377.8M698.5,382.8 L706.0,389.0 L711.0,386.5M696.0,387.8 L706.0,389.0M712.2,364.0 L706.0,354.0 L714.0,351.5M702.2,350.2 L706.0,354.0" fill="none" stroke="#000" stroke-width="0.48" stroke-linejoin="round"/></g>
<g clip-path="url(#t714_339)"><rect x="714" y="339" width="128" height="72" fill="#ff8c00"/><path d="M714.0,341.5 L721.5,346.5 L729.0,347.8M714.0,354.0 L719.0,356.5M714.0,347.8 L720.2,351.5 L725.2,350.2" fill="none" stroke="#000" stroke-width="0.48" stroke-linejoin="round"/></g>
<g clip-path="url(#t330_411)"><rect x="330" y="411" width="128" height="72" fill="#10ffee"/><path d="M444.4,406.0 L463.0,406.0 L463.0,423.5 L444.4,423.5Z" fill="#ffffff"/><path d="M444.4,406.0 L463.0,406.0 L463.0,423.5 L444.4,423.5Z" fill="none" stroke="#000" stroke-width="0.48" stroke-linejoin="round"/></g>
<g clip-path="url(#t458_411)"><rect x="458" y="411" width="128" height="72" fill="#ffc800"/><path d="M453.0,406.0 L471.8,406.0 L471.8,412.2 L453.0,412.2Z" fill="#ffffff"/><path d="M470.5,406.0 L506.1,406.0 L510.5,417.2 L510.5,427.9 L505.5,427.9 L500.5,429.8 L496.8,436.0 L489.2,433.5 L483.0,427.2 L480.5,419.8 L473.0,411.0Z" fill="#ffff00"/><path d="M556.8,406.0 L591.0,406.0 L591.0,436.0 L570.5,437.2 L556.8,442.2 L554.2,439.8 L556.8,434.8 L561.8,431.0 L564.2,423.5 L561.8,418.5 L556.8,416.0Z" fill="#ff8c00"/><path d="M539.9,465.4 L542.4,461.6 L548.0,463.5 L551.1,464.8 L553.6,468.5 L551.8,470.4 L545.5,468.5Z" fill="#ff8c00"/><path d="M584.2,406.0 L591.0,406.0 L591.0,426.0 L584.2,426.6 L583.0,418.5Z" fill="#ff5200"/><path d="M453.0,406.0 L471.8,406.0 L471.8,412.2 L453.0,412.2ZM470.5,406.0 L506.1,406.0 L510.5,417.2 L510.5,427.9 L505.5,427.9 L500.5,429.8 L496.8,436.0 L489.2,433.5 L483.0,427.2 L480.5,419.8 L473.0,411.0ZM556.8,406.0 L591.0,406.0 L591.0,436.0 L570.5,437.2 L556.8,442.2 L554.2,439.8 L556.8,434.8 L561.8,431.0 L564.2,423.5 L561.8,418.5 L556.8,416.0ZM539.9,465.4 L542.4,461.6 L548.0,463.5 L551.1,464.8 L553.6,468.5 L551.8,470.4 L545.5,468.5ZM584.2,406.0 L591.0,406.0 L591.0,426.0 L584.2,426.6 L583.0,418.5ZM520.5,436.0 L531.8,435.4 L533.0,431.0 L539.2,428.5 L543.0,423.5 L544.2,416.0 L541.8,411.0M531.8,435.4 L538.0,434.8 L543.0,439.8 L545.5,448.5 L544.2,454.8 L549.2,453.5M544.2,416.0 L550.5,419.8 L556.8,416.0M564.2,423.5 L568.0,422.2 L571.8,419.8 L575.5,422.2 L583.0,421.0 L584.2,418.5" fill="none" stroke="#000" stroke-width="0.48" stroke-linejoin="round"/></g>
<g clip-path="url(#t586_411)"><rect x="586" y="411" width="128" height="72" fill="#ff5200"/><path d="M581.0,406.0 L592.2,406.0 L592.2,414.1 L597.2,421.0 L599.8,426.0 L598.5,428.5 L581.0,427.2Z" fill="#ff8c00"/><path d="M619.8,406.0 L641.0,406.0 L640.4,415.4 L637.9,416.0 L636.0,412.2 L632.9,416.6 L621.0,417.9Z" fill="#ff1800"/><path d="M673.5,406.0 L719.0,406.0 L719.0,424.8 L706.0,424.8 L688.5,431.0 L687.2,423.5 L683.5,419.8 L676.0,414.8Z" fill="#ff8c00"/><path d="M688.5,431.0 L704.1,425.0 L719.0,423.5 L719.0,488.0 L686.0,488.0Z" fill="#ffc800"/><path d="M581.0,406.0 L592.2,406.0 L592.2,414.1 L597.2,421.0 L599.8,426.0 L598.5,428.5 L581.0,427.2ZM619.8,406.0 L641.0,406.0 L640.4,415.4 L637.9,416.0 L636.0,412.2 L632.9,416.6 L621.0,417.9ZM673.5,406.0 L719.0,406.0 L719.0,424.8 L706.0,424.8 L688.5,431.0 L687.2,423.5 L683.5,419.8 L676.0,414.8ZM688.5,431.0 L704.1,425.0 L719.0,423.5 L719.0,488.0 L686.0,488.0ZM602.2,411.0 L606.0,418.5 L601.0,419.8M606.0,418.5 L617.2,421.0 L621.0,417.9M608.5,422.2 L611.0,428.5M687.2,423.5 L689.8,416.0 L698.5,417.2 L701.0,414.8M694.8,442.2 L711.0,436.6 L719.0,448.5M711.0,436.6 L713.5,458.5" fill="none" stroke="#000" stroke-width="0.48" stroke-linejoin="round"/></g>
<g clip-path="url(#t714_411)"><rect x="714" y="411" width="128" height="72" fill="#ffc800"/><path d="M709.0,406.0 L739.0,406.0 L739.0,423.5 L709.0,425.0Z" fill="#ff8c00"/><path d="M709.0,406.0 L739.0,406.0 L739.0,423.5 L709.0,425.0Z" fill="none" stroke="#000" stroke-width="0.48" stroke-linejoin="round"/></g>

</g>
<path d="M351.2,201.2 L367.0,205.6 L387.5,210.6 L406.0,215.0 L427.5,218.0 L468.0,222.0 L500.0,224.0 L530.0,225.0 L560.0,225.3 L560.5,220.5 L562.0,220.0 L562.5,225.5 L570.0,228.0 L575.6,227.5 L582.5,230.0 L591.2,230.6 L600.6,231.5 L595.0,235.6 L590.0,241.2 L586.2,246.2 L595.0,247.5 L598.0,246.9 L607.5,240.6 L608.8,239.4 L609.8,241.2 L611.2,243.0 L613.8,241.9 L616.9,241.2 L618.8,243.8 L620.0,245.6 L625.0,243.5 L630.0,241.9 L635.0,240.0 L636.2,242.8 L641.2,242.5 L643.0,245.0 L645.0,246.9 L641.9,247.5 L638.0,247.8 L633.8,248.5 L630.0,250.2 L626.2,252.5 L625.0,253.8 L623.0,252.5 L621.2,253.0 L620.6,256.2 L619.4,260.0 L618.0,264.4 L620.0,263.0 L621.2,263.8 L620.6,270.0 L620.0,277.5 L619.8,282.0 L622.0,287.5 L625.5,294.5 L630.0,293.8 L632.5,288.8 L631.2,282.0 L630.0,278.0 L629.4,273.8 L629.8,268.8 L631.2,262.5 L633.8,260.0 L634.4,258.0 L635.0,256.2 L638.0,251.2 L638.8,250.0 L641.9,251.9 L647.5,253.0 L651.2,256.2 L651.9,262.5 L650.0,266.9 L648.0,272.5 L652.5,268.8 L656.2,266.2 L659.4,270.0 L661.2,276.2 L661.9,280.0 L661.2,282.0 L658.8,286.2 L660.0,291.2 L660.0,292.5 L668.8,290.0 L678.8,283.8 L686.2,277.5 L688.0,273.0 L686.9,268.8 L688.8,266.2 L697.5,264.4 L703.0,262.5 L707.5,257.5 L706.2,253.8 L708.0,250.0 L708.0,248.8 L710.0,245.0 L713.8,242.5 L718.8,241.2 L725.0,238.8 L736.2,236.2 L738.1,232.5 L741.2,229.4 L742.5,225.0 L741.9,220.0 L742.5,215.0 L743.8,210.0 L745.6,205.0 L747.5,206.9 L752.5,203.8 L756.2,205.0 L758.8,211.2 L761.9,219.4 L765.0,220.0 L766.9,223.8 L770.0,225.0 L770.0,227.5 L766.2,231.2 L762.5,235.0 L758.8,233.8 L757.5,237.5 L756.2,242.5 L752.5,243.8 L751.2,247.5 L748.8,252.5 L750.0,256.2 L752.5,257.5 L751.9,260.6 L756.9,261.9 L759.4,263.8 L760.0,266.2 L756.9,268.0 L756.2,270.0 L753.8,268.8 L750.0,268.0 L749.4,271.9 L747.5,274.4 L740.0,278.0 L733.8,280.6 L731.9,283.0 L735.0,282.8 L742.5,278.0 L746.2,276.0 L746.9,276.9 L742.5,280.0 L735.0,285.0 L731.9,286.9 L733.8,290.0 L733.0,296.2 L731.2,302.5 L730.0,303.8 L728.8,301.2 L725.6,302.5 L727.5,306.2 L729.4,310.0 L728.8,316.2 L727.5,321.2 L726.2,325.0 L725.2,319.4 L725.0,315.0 L722.5,313.1 L720.6,308.8 L719.4,302.5 L716.9,302.5 L716.2,308.8 L718.1,313.1 L721.0,316.5 L722.5,320.6 L724.0,325.2 L727.5,328.8 L730.0,333.0 L733.0,336.9 L730.0,340.0 L728.0,342.5 L729.4,347.5 L727.5,350.0 L723.8,352.5 L720.0,357.5 L717.5,364.0 L710.0,371.5 L702.5,381.5 L696.2,390.2 L693.8,397.8 L693.8,400.0 L696.2,406.2 L700.0,413.8 L705.0,421.2 L706.9,423.0 L710.0,428.8 L713.8,435.0 L716.9,442.5 L716.9,450.0 L718.0,455.0 L717.5,457.5 L712.5,460.0 L705.0,461.2 L710.0,459.4 L707.5,456.2 L702.5,452.5 L698.8,447.5 L695.0,443.0 L692.5,441.2 L688.8,435.0 L688.0,431.2 L688.0,426.2 L686.2,421.2 L682.5,419.4 L677.5,415.6 L673.0,413.0 L670.0,415.0 L663.8,418.0 L660.6,418.0 L656.2,414.4 L650.0,413.0 L641.2,414.4 L637.5,416.2 L631.2,415.6 L623.8,417.5 L621.2,419.4 L623.0,422.0 L620.6,425.6 L622.5,427.5 L625.0,431.2 L628.0,429.4 L623.8,428.8 L620.0,427.0 L616.2,429.4 L612.5,431.2 L607.5,430.6 L600.0,428.0 L597.5,427.5 L590.0,427.0 L583.8,426.2 L580.0,427.5 L575.0,430.0 L571.2,433.8 L565.0,438.8 L557.5,441.2 L553.8,440.0 L555.0,443.8 L552.5,447.5 L551.2,452.5 L550.0,458.8 L551.2,463.8 L553.8,468.0 L552.5,470.0 L546.2,468.0 L540.0,465.6 L536.2,463.8 L532.5,458.8 L530.0,452.5 L525.0,445.0 L521.2,437.5 L517.5,433.0 L512.5,428.8 L506.2,428.0 L502.5,428.8 L500.0,432.5 L496.2,436.2 L491.2,433.8 L485.0,428.8 L482.5,422.5 L477.5,416.2 L471.2,409.4 L466.9,403.8 L452.5,404.8 L451.9,409.0 L444.4,408.0 L426.2,406.2 L406.2,395.6 L395.6,390.0 L394.4,387.5 L375.6,386.5 L374.4,385.0 L373.0,380.0 L370.0,373.8 L366.2,370.0 L363.8,367.5 L357.5,363.8 L351.9,360.0 L348.8,356.2 L350.0,352.5 L348.0,348.8 L345.0,342.5 L342.5,337.5 L343.0,333.8 L341.2,327.5 L341.9,325.0 L341.2,320.6 L338.0,318.8 L337.5,315.0 L335.6,308.8 L335.0,300.0 L332.5,292.5 L333.8,286.2 L337.5,275.0 L338.0,266.2 L340.6,257.5 L343.8,250.0 L345.0,245.0 L348.8,237.0 L350.6,232.0 L352.0,226.0 L352.0,220.0 L351.2,208.0Z" fill="none" stroke="#1a1a1a" stroke-width="0.75" stroke-linejoin="round"/>
<text x="621.5" y="499.2" textLength="112" lengthAdjust="spacingAndGlyphs" class="cr">NOAA PSL and CIRES–CU</text>
<rect x="336.60" y="503.3" width="30.69" height="25.0" fill="#0020ff" stroke="#222" stroke-width="0.6"/><rect x="367.29" y="503.3" width="30.69" height="25.0" fill="#0064ff" stroke="#222" stroke-width="0.6"/><rect x="397.98" y="503.3" width="30.69" height="25.0" fill="#00a0ff" stroke="#222" stroke-width="0.6"/><rect x="428.67" y="503.3" width="30.69" height="25.0" fill="#00dcff" stroke="#222" stroke-width="0.6"/><rect x="459.36" y="503.3" width="30.69" height="25.0" fill="#10ffee" stroke="#222" stroke-width="0.6"/><rect x="490.05" y="503.3" width="30.69" height="25.0" fill="#4cffb4" stroke="#222" stroke-width="0.6"/><rect x="520.74" y="503.3" width="30.69" height="25.0" fill="#ffffff" stroke="#222" stroke-width="0.6"/><rect x="551.43" y="503.3" width="30.69" height="25.0" fill="#ffffff" stroke="#222" stroke-width="0.6"/><rect x="582.12" y="503.3" width="30.69" height="25.0" fill="#ffff00" stroke="#222" stroke-width="0.6"/><rect x="612.81" y="503.3" width="30.69" height="25.0" fill="#ffc800" stroke="#222" stroke-width="0.6"/><rect x="643.50" y="503.3" width="30.69" height="25.0" fill="#ff8c00" stroke="#222" stroke-width="0.6"/><rect x="674.19" y="503.3" width="30.69" height="25.0" fill="#ff5200" stroke="#222" stroke-width="0.6"/><rect x="704.88" y="503.3" width="30.69" height="25.0" fill="#ff1800" stroke="#222" stroke-width="0.6"/><rect x="735.57" y="503.3" width="30.69" height="25.0" fill="#dc0000" stroke="#222" stroke-width="0.6"/>
<text y="544.8" class="cbl"><tspan x="351.7" textLength="14.1" lengthAdjust="spacingAndGlyphs">−</tspan><tspan x="366.0" textLength="25.5" lengthAdjust="spacingAndGlyphs">6.0</tspan></text><text y="544.8" class="cbl"><tspan x="413.95" textLength="13.7" lengthAdjust="spacingAndGlyphs">−</tspan><tspan x="427.20000000000005" textLength="25.6" lengthAdjust="spacingAndGlyphs">4.0</tspan></text><text y="544.8" class="cbl"><tspan x="474.95" textLength="13.8" lengthAdjust="spacingAndGlyphs">−</tspan><tspan x="488.35" textLength="26.2" lengthAdjust="spacingAndGlyphs">2.0</tspan></text><text y="544.8" class="cbl"><tspan x="546.85" textLength="26.1" lengthAdjust="spacingAndGlyphs">0.0</tspan></text><text y="544.8" class="cbl"><tspan x="608.2" textLength="26.2" lengthAdjust="spacingAndGlyphs">2.0</tspan></text><text y="544.8" class="cbl"><tspan x="669.7" textLength="26.2" lengthAdjust="spacingAndGlyphs">4.0</tspan></text><text y="544.8" class="cbl"><tspan x="731.0" textLength="26.8" lengthAdjust="spacingAndGlyphs">6.0</tspan></text>
</svg>
</body></html>
